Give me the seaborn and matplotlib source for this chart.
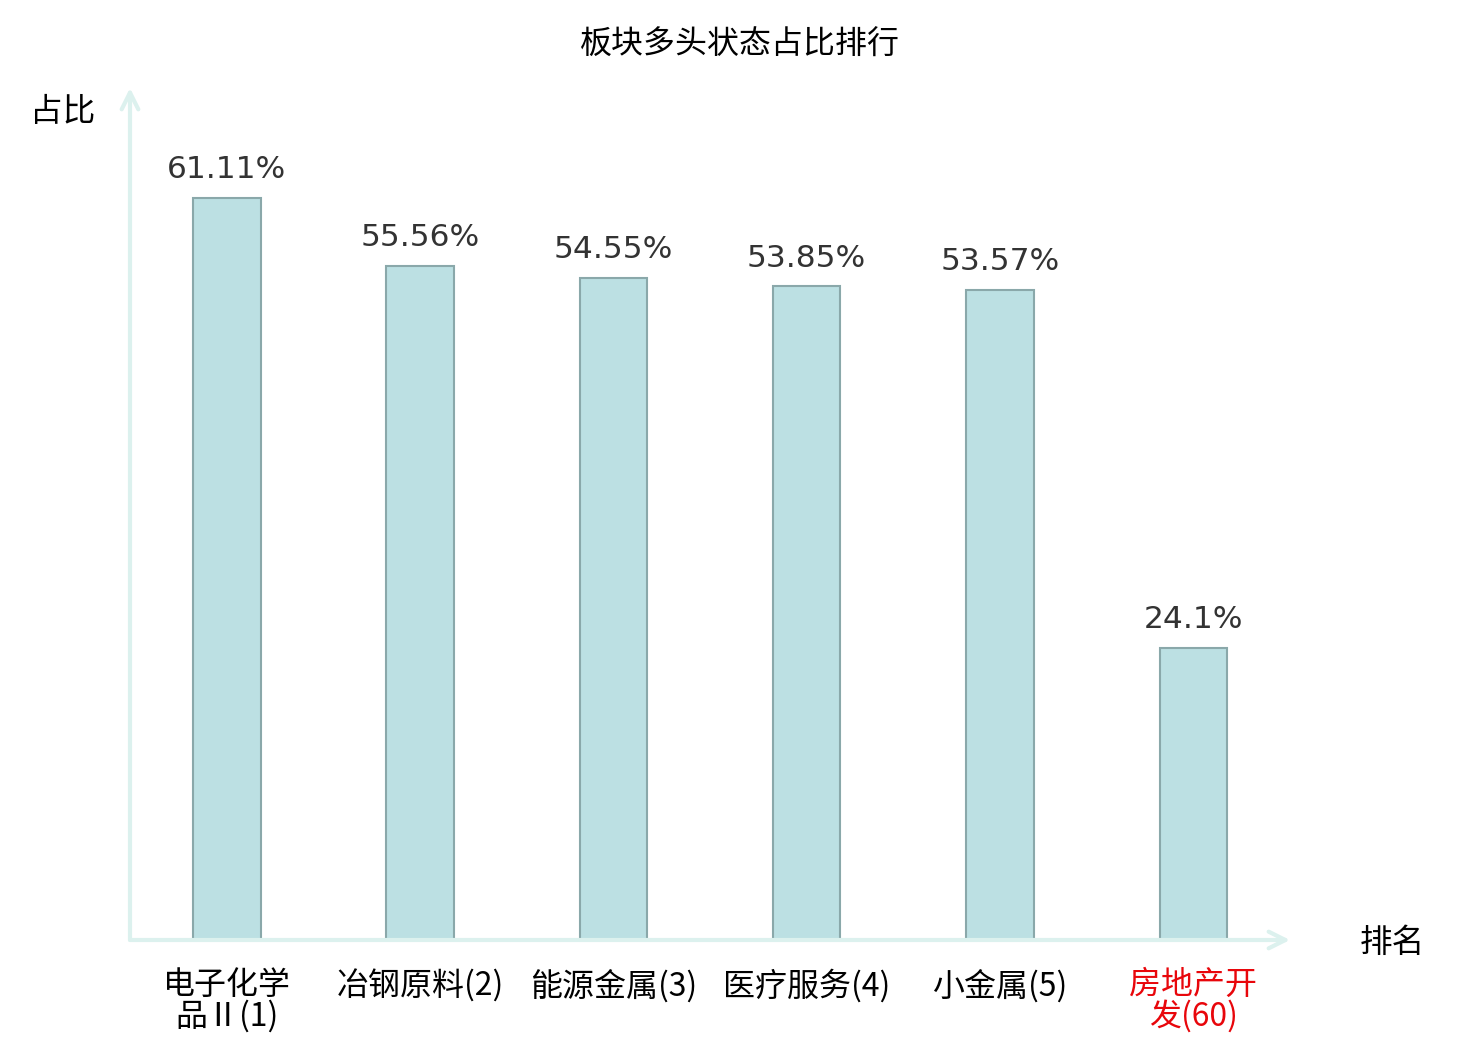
import matplotlib
matplotlib.use("Agg")
import matplotlib.pyplot as plt
import seaborn as sns
import pandas as pd

categories = ["电子化学\n品Ⅱ(1)", "冶钢原料(2)", "能源金属(3)", "医疗服务(4)", "小金属(5)", "房地产开\n发(60)"]
values = [61.11, 55.56, 54.55, 53.85, 53.57, 24.1]
value_labels = ["61.11%", "55.56%", "54.55%", "53.85%", "53.57%", "24.1%"]
label_colors = ["#000000", "#000000", "#000000", "#000000", "#000000", "#e8060b"]

sns.set_theme(style="white")
plt.rcParams['font.family'] = ['Noto Sans CJK SC', 'DejaVu Sans']

df = pd.DataFrame({"cat": categories, "val": values})

fig = plt.figure(figsize=(14.8, 10.4), dpi=100)
ax = fig.add_axes([130/1480, 100/1040, 1160/1480, 852/1040])

sns.barplot(data=df, x="cat", y="val", ax=ax, color="#bce0e3", saturation=1,
            width=0.35, edgecolor="#8aa8aa", linewidth=1.5)

ax.set_xlim(-0.5, 5.5)
ax.set_ylim(0, 70.2)
for s in ax.spines.values():
    s.set_visible(False)
ax.set_yticks([])
ax.set_xlabel("")
ax.set_ylabel("")
ax.tick_params(axis="x", length=0, pad=21)
ax.set_xticks(range(len(categories)))
ax.set_xticklabels(categories, fontsize=23, linespacing=0.95)
for t, c in zip(ax.get_xticklabels(), label_colors):
    t.set_color(c)

for i, (v, lab) in enumerate(zip(values, value_labels)):
    ax.annotate(lab, (i, v), xytext=(0, 10), textcoords="offset points",
                ha="center", va="bottom", fontsize=22.5, color="#333333",
                family=["DejaVu Sans"])

axis_color = "#dcf1ee"
ax.annotate("", xy=(1.0, 0), xytext=(0, 0), xycoords="axes fraction",
            arrowprops=dict(arrowstyle="->", color=axis_color, lw=3, mutation_scale=30,
                            shrinkA=0, shrinkB=0), annotation_clip=False)
ax.annotate("", xy=(0, 1.0), xytext=(0, 0), xycoords="axes fraction",
            arrowprops=dict(arrowstyle="->", color=axis_color, lw=3, mutation_scale=30,
                            shrinkA=0, shrinkB=0), annotation_clip=False)

fig.text(740/1480, 1 - 45/1040, "板块多头状态占比排行", ha="center", va="center",
         fontsize=23, color="#000000")
fig.text(63/1480, 1 - 112/1040, "占比", ha="center", va="center", fontsize=23.5, color="#000000")
fig.text(1392/1480, 1 - 943/1040, "排名", ha="center", va="center", fontsize=23.5, color="#000000")

fig.savefig("out.png", dpi=100, facecolor="white")
